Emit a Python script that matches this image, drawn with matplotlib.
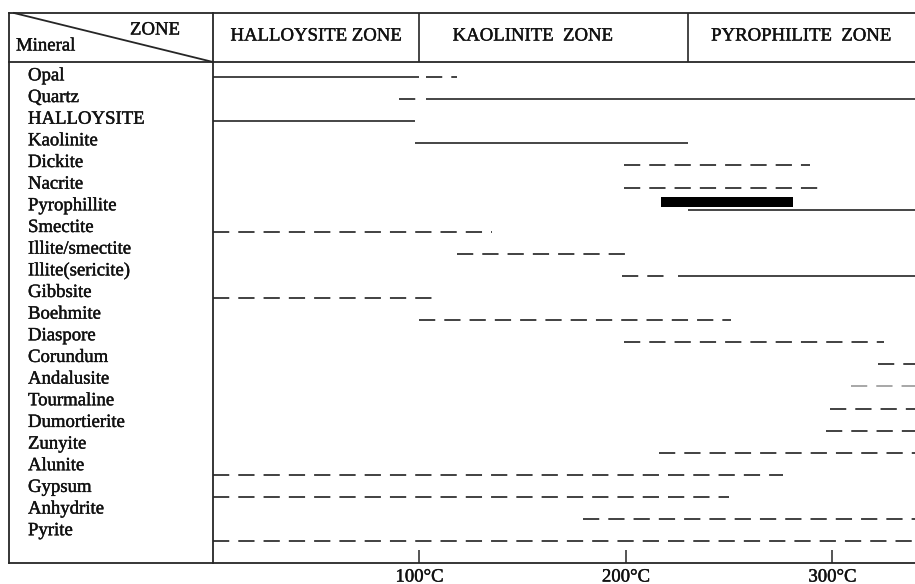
import matplotlib.pyplot as plt
import matplotlib.patheffects as pe
from matplotlib.lines import Line2D
from matplotlib.transforms import blended_transform_factory

minerals = ['Opal', 'Quartz', 'HALLOYSITE', 'Kaolinite', 'Dickite', 'Nacrite',
            'Pyrophillite', 'Smectite', 'Illite/smectite', 'Illite(sericite)',
            'Gibbsite', 'Boehmite', 'Diaspore', 'Corundum', 'Andalusite',
            'Tourmaline', 'Dumortierite', 'Zunyite', 'Alunite', 'Gypsum',
            'Anhydrite', 'Pyrite']

# stable range (solid) and possible range (dashed), in deg C
solid_from = [0, 103, 0, 98, None, None, 230, None, None, 225, None, None,
              None, None, None, None, None, None, None, None, None, None]
solid_to = [100, 340, 98, 230, None, None, 340, None, None, 340, None, None,
            None, None, None, None, None, None, None, None, None, None]
dash_from = [103, 90, None, None, 199, 199, None, 0, 118, 198, 0, 100,
             199, 322, 309, 299, 297, 216, 0, 0, 179, 0]
dash_to = [118, 102, None, None, 289, 294, None, 135, 201, 219, 107, 251,
           325, 340, 340, 340, 340, 340, 276, 250, 340, 340]

pyrophillite_peak = (217, 281)

zones = ['HALLOYSITE ZONE', 'KAOLINITE  ZONE', 'PYROPHILITE  ZONE']
zone_edges = [0, 100, 230, 340]
temp_ticks = [100, 200, 300]
temp_labels = ['100°C', '200°C', '300°C']

plt.rcParams['font.family'] = ['Liberation Serif', 'DejaVu Serif']
FS = 13.5
W, H = 915, 584
ink = '#262626'
txt = '#111111'
heavy = [pe.withStroke(linewidth=0.3, foreground=txt)]

fig = plt.figure(figsize=(W / 100, H / 100), dpi=100)


def fx(x):
    return x / W


def fy(y):
    return 1 - y / H


ax = fig.add_axes([fx(213), fy(563), fx(915 - 213), (563 - 62) / H])
ax.set_xlim(0, 340)
# row i sits at 77 + 22.1*i pixels from the top
ax.set_ylim((563 - 77) / 22.1, (62 - 77) / 22.1)
for s in ax.spines.values():
    s.set_visible(False)
ax.set_yticks([])
ax.set_xticks(temp_ticks)
ax.set_xticklabels(temp_labels)
ax.tick_params(axis='x', direction='in', length=9.5, width=1.1, color=ink,
               pad=4, labelsize=FS, labelcolor=txt)
for t in ax.get_xticklabels():
    t.set_path_effects(heavy)

for i, name in enumerate(minerals):
    if solid_from[i] is not None:
        ax.plot([solid_from[i], solid_to[i]], [i, i], color=ink, lw=1.2,
                solid_capstyle='butt')
    if dash_from[i] is not None:
        c = '#a0a0a0' if name == 'Andalusite' else '#333333'
        ax.plot([dash_from[i], dash_to[i]], [i, i], color=c, lw=1.3,
                linestyle=(0, (9, 5)), dash_capstyle='butt')

p = minerals.index('Pyrophillite')
ax.barh(p - 0.36, pyrophillite_peak[1] - pyrophillite_peak[0],
        left=pyrophillite_peak[0], height=0.45, color='black')

# mineral names in the left column
lab = blended_transform_factory(fig.transFigure, ax.transData)
for i, name in enumerate(minerals):
    ax.text(fx(28), i * 0.98 - 0.05, name, transform=lab, fontsize=FS,
            va='center', ha='left', color=txt, clip_on=False,
            path_effects=heavy)

# header row with zone names
hdr = fig.add_axes([fx(213), fy(62), fx(915 - 213), 49 / H])
hdr.set_xlim(0, 340)
hdr.set_ylim(0, 1)
hdr.axis('off')
for e in zone_edges[1:-1]:
    hdr.axvline(e, color=ink, lw=1.2)
for k, z in enumerate(zones):
    mid = (zone_edges[k] + zone_edges[k + 1]) / 2
    if k == 1:
        mid -= 10
    hdr.text(mid, 0.53, z, ha='center', va='center', fontsize=FS,
             color=txt, path_effects=heavy)

fig.text(fx(130), fy(30), 'ZONE', fontsize=FS, va='center', ha='left',
         color=txt, path_effects=heavy)
fig.text(fx(16), fy(46), 'Mineral', fontsize=FS, va='center', ha='left',
         color=txt, path_effects=heavy)

# table frame
frame = [((9, 13), (915, 13)), ((9, 62), (915, 62)), ((9, 563), (915, 563)),
         ((9, 13), (9, 563)), ((213, 13), (213, 563)), ((14, 13), (213, 62))]
for (x0, y0), (x1, y1) in frame:
    fig.add_artist(Line2D([fx(x0), fx(x1)], [fy(y0), fy(y1)], color=ink,
                          lw=1.3))

fig.savefig('out.png', dpi=100)
